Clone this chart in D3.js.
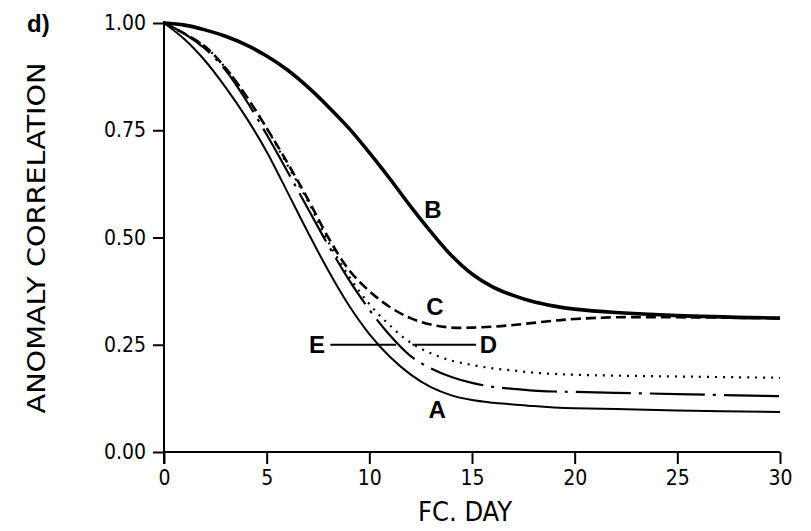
<!DOCTYPE html>
<html>
<head>
<meta charset="utf-8">
<script src="https://cdn.jsdelivr.net/npm/d3@7"></script>
<style>
  body { margin: 0; background: #fff; }
  svg text { font-family: "Liberation Sans Narrow", "DejaVu Sans Condensed", "Liberation Sans", sans-serif; fill: #000; }
</style>
</head>
<body>
<div id="chart"></div>
<script>
// forecast day
var days = [0,1,2,3,4,5,6,7,8,9,10,11,12,13,14,15,16,17,18,19,20,22,25,30];

// anomaly correlation per experiment
var serA = [1.00,0.962,0.912,0.85,0.78,0.70,0.607,0.513,0.423,0.342,0.275,0.222,0.181,0.151,0.132,0.121,0.115,0.111,0.107,0.104,0.102,0.100,0.097,0.093];
var serB = [1.00,0.995,0.984,0.969,0.949,0.923,0.891,0.851,0.805,0.755,0.698,0.637,0.573,0.513,0.458,0.415,0.385,0.365,0.35,0.34,0.333,0.325,0.318,0.312];
var serC = [1.00,0.975,0.945,0.895,0.83,0.755,0.675,0.59,0.50,0.425,0.375,0.338,0.312,0.297,0.29,0.29,0.292,0.296,0.301,0.306,0.31,0.314,0.314,0.312];
var serD = [1.00,0.975,0.945,0.895,0.83,0.755,0.67,0.585,0.49,0.41,0.345,0.295,0.255,0.23,0.213,0.203,0.195,0.19,0.185,0.182,0.18,0.178,0.176,0.173];
var serE = [1.00,0.975,0.94,0.89,0.82,0.74,0.655,0.568,0.482,0.402,0.332,0.272,0.224,0.195,0.175,0.161,0.152,0.147,0.143,0.141,0.14,0.138,0.135,0.13];

var xTicks = [0,5,10,15,20,25,30];
var yTicks = [0,0.25,0.5,0.75,1];

var width = 811, height = 531;

var svg = d3.select("#chart")
  .append("svg")
    .attr("width", width)
    .attr("height", height);

var x = d3.scaleLinear().domain([0, 30]).range([164, 780]);
var y = d3.scaleLinear().domain([0, 1]).range([452, 23]);

// axes
var xAxis = d3.axisBottom(x).tickValues(xTicks).tickSize(12).tickPadding(6)
  .tickFormat(d3.format("d"));
var yAxis = d3.axisLeft(y).tickValues(yTicks).tickSize(11).tickPadding(7)
  .tickFormat(d3.format(".2f"));

var gx = svg.append("g").attr("transform", "translate(0," + y(0) + ")").call(xAxis);
var gy = svg.append("g").attr("transform", "translate(" + x(0) + ",0)").call(yAxis);

[gx, gy].forEach(function(g) {
  g.select(".domain").remove();
  g.selectAll(".tick line").attr("stroke", "#000").attr("stroke-width", 2);
  g.selectAll(".tick text").style("font-size", "21px").attr("fill", "#000");
});

// axis lines (y runs down through the 0 tick)
svg.append("line")
  .attr("x1", x(0)).attr("x2", x(30))
  .attr("y1", y(0)).attr("y2", y(0))
  .attr("stroke", "#000").attr("stroke-width", 2);
svg.append("line")
  .attr("x1", x(0)).attr("x2", x(0))
  .attr("y1", y(1) - 2).attr("y2", y(0) + 12)
  .attr("stroke", "#000").attr("stroke-width", 2);

// axis titles
svg.append("text")
  .attr("x", 465).attr("y", 521)
  .attr("text-anchor", "middle")
  .style("font-size", "27px")
  .text("FC. DAY");

svg.append("text")
  .attr("transform", "translate(45,238) rotate(-90)")
  .attr("text-anchor", "middle")
  .attr("textLength", 351)
  .attr("lengthAdjust", "spacingAndGlyphs")
  .style("font-size", "24px")
  .text("ANOMALY CORRELATION");

svg.append("text")
  .attr("x", 27).attr("y", 32)
  .style("font-size", "24px")
  .style("font-weight", "bold")
  .style("font-family", "Liberation Sans, Arial, sans-serif")
  .text("d)");

// curves
var series = [
  {name: "A", vals: serA, width: 2, dash: null},
  {name: "B", vals: serB, width: 3.6, dash: null},
  {name: "C", vals: serC, width: 2.6, dash: "10,5"},
  {name: "D", vals: serD, width: 2.2, dash: "2,6"},
  {name: "E", vals: serE, width: 2.2, dash: "55,8,3,8"}
];

var line = d3.line()
  .x(function(d) { return x(d[0]); })
  .y(function(d) { return y(d[1]); })
  .curve(d3.curveCatmullRom.alpha(0.5));

svg.selectAll("path.curve")
  .data(series)
  .enter()
  .append("path")
    .attr("class", "curve")
    .attr("d", function(s) { return line(days.map(function(d, i) { return [d, s.vals[i]]; })); })
    .attr("fill", "none")
    .attr("stroke", "#000")
    .attr("stroke-width", function(s) { return s.width; })
    .attr("stroke-dasharray", function(s) { return s.dash; });

// curve labels and leader lines
var labels = [
  {t: "A", d: 13.3, v: 0.10},
  {t: "B", d: 13.1, v: 0.566},
  {t: "C", d: 13.2, v: 0.34},
  {t: "D", d: 15.8, v: 0.25},
  {t: "E", d: 7.45, v: 0.25}
];
var leaders = [[8.1, 11.3], [12.1, 15.2]];

svg.selectAll("line.leader")
  .data(leaders)
  .enter()
  .append("line")
    .attr("class", "leader")
    .attr("x1", function(d) { return x(d[0]); })
    .attr("x2", function(d) { return x(d[1]); })
    .attr("y1", y(0.25)).attr("y2", y(0.25))
    .attr("stroke", "#000").attr("stroke-width", 2);

svg.selectAll("text.lab")
  .data(labels)
  .enter()
  .append("text")
    .attr("class", "lab")
    .attr("x", function(d) { return x(d.d); })
    .attr("y", function(d) { return y(d.v); })
    .attr("text-anchor", "middle")
    .attr("dy", "0.36em")
    .style("font-family", "Liberation Sans, Arial, sans-serif")
    .style("font-weight", "bold")
    .style("font-size", "24px")
    .text(function(d) { return d.t; });
</script>
</body>
</html>
